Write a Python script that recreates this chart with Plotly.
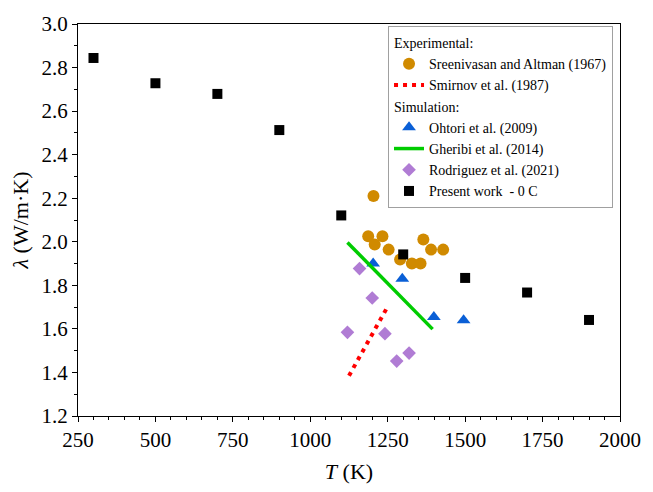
import plotly.graph_objects as go

# ---- data ----
sa_T = [1204, 1187, 1233, 1208, 1253, 1365, 1390, 1429, 1290, 1328, 1356]
sa_k = [2.21, 2.025, 2.025, 1.988, 1.964, 2.010, 1.964, 1.964, 1.919, 1.900, 1.900]

smirnov_T = [1125, 1245]
smirnov_k = [1.385, 1.69]

ohtori_T = [1203, 1297, 1399, 1495]
ohtori_k = [1.90, 1.83, 1.655, 1.64]

gheribi_T = [1120, 1395]
gheribi_k = [1.997, 1.599]

rodriguez_T = [1159, 1200, 1120, 1241, 1319, 1279]
rodriguez_k = [1.877, 1.742, 1.584, 1.578, 1.489, 1.452]

present_T = [300, 500, 700, 900, 1100, 1300, 1500, 1700, 1900]
present_k = [2.844, 2.728, 2.679, 2.513, 2.121, 1.942, 1.834, 1.767, 1.641]

x_ticks = [250, 500, 750, 1000, 1250, 1500, 1750, 2000]
y_ticks = [1.2, 1.4, 1.6, 1.8, 2.0, 2.2, 2.4, 2.6, 2.8, 3.0]

FONT = "'Liberation Serif', 'Times New Roman', 'DejaVu Serif', serif"

fig = go.Figure()

fig.add_trace(go.Scatter(
    x=sa_T, y=sa_k, mode="markers", name="Sreenivasan and Altman (1967)",
    marker=dict(symbol="circle", size=12, color="#D08A00"),
    legendgroup="exp", legendgrouptitle=dict(text="Experimental:")))
fig.add_trace(go.Scatter(
    x=smirnov_T, y=smirnov_k, mode="lines", name="Smirnov et al. (1987)",
    line=dict(color="#FF0000", width=4, dash="4px,5px"),
    legendgroup="exp"))
fig.add_trace(go.Scatter(
    x=ohtori_T, y=ohtori_k, mode="markers", name="Ohtori et al. (2009)",
    marker=dict(symbol="triangle-up", size=12, color="#0A5FD6"),
    legendgroup="sim", legendgrouptitle=dict(text="Simulation:")))
fig.add_trace(go.Scatter(
    x=gheribi_T, y=gheribi_k, mode="lines", name="Gheribi et al. (2014)",
    line=dict(color="#00CC00", width=3.5),
    legendgroup="sim"))
fig.add_trace(go.Scatter(
    x=rodriguez_T, y=rodriguez_k, mode="markers", name="Rodriguez et al. (2021)",
    marker=dict(symbol="diamond", size=10.5, color="#B07CD4"),
    legendgroup="sim"))
fig.add_trace(go.Scatter(
    x=present_T, y=present_k, mode="markers", name="Present work \u00a0- 0 C",
    marker=dict(symbol="square", size=10, color="#000000"),
    legendgroup="sim"))

axis_common = dict(
    showgrid=False, zeroline=False, showline=True, linecolor="black",
    linewidth=1.3, mirror=True, ticks="outside", ticklen=5, tickwidth=1.2,
    tickcolor="black", tickfont=dict(family=FONT, size=21, color="black"),
)

fig.update_xaxes(
    range=[250, 2000], tickvals=x_ticks,
    ticktext=[str(v) for v in x_ticks],
    minor=dict(dtick=50, tick0=250, ticks="outside", ticklen=3, tickcolor="black", tickwidth=1),
    title=dict(text="<i>T</i> (K)", font=dict(family=FONT, size=22, color="black"), standoff=12),
    **axis_common)
fig.update_yaxes(
    range=[1.2, 3.0], tickvals=y_ticks,
    ticktext=[f"{v:.1f}" for v in y_ticks],
    minor=dict(dtick=0.1, tick0=1.2, ticks="outside", ticklen=3, tickcolor="black", tickwidth=1),
    title=dict(text="<i>λ</i> (W/m·K)", font=dict(family=FONT, size=22, color="black"), standoff=6),
    **axis_common)

fig.update_layout(
    width=653, height=492,
    margin=dict(l=78, r=26, t=18, b=70),
    paper_bgcolor="white", plot_bgcolor="white",
    font=dict(family=FONT, size=14, color="black"),
    legend=dict(
        x=0.572, y=0.995, xanchor="left", yanchor="top",
        bordercolor="#A0A0A0", borderwidth=1, bgcolor="white",
        font=dict(family=FONT, size=14, color="black"),
        grouptitlefont=dict(family=FONT, size=14, color="black"),
        tracegroupgap=0, itemwidth=30,
    ),
)

fig.write_html("out.html")
